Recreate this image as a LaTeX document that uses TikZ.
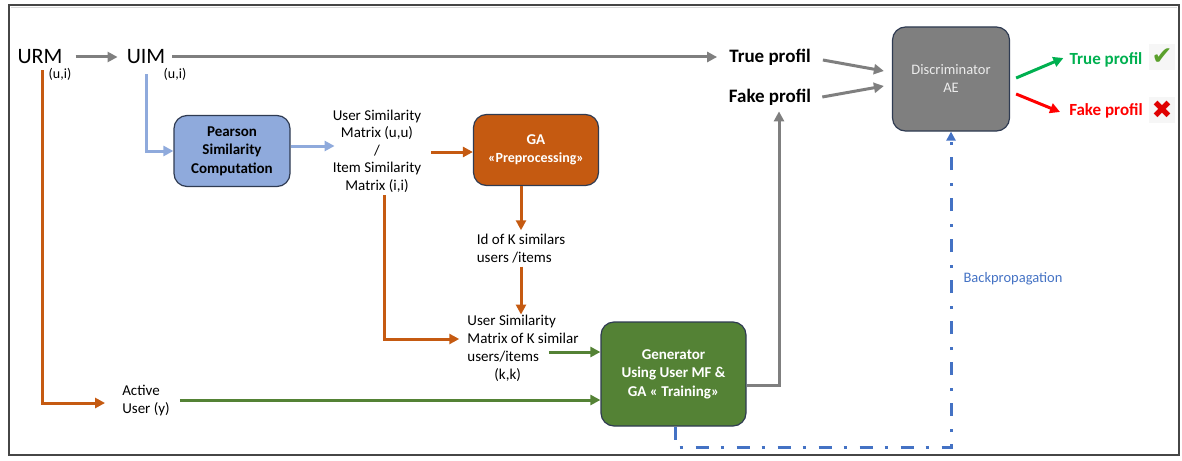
\documentclass[tikz,border=0pt]{standalone}
\usepackage{fontspec}
\setmainfont{Carlito}
\newfontfamily\symfont{DejaVu Sans}
\usetikzlibrary{arrows.meta,calc}
\definecolor{cgray}{HTML}{7F7F7F}
\definecolor{cblue}{HTML}{8FAADC}
\definecolor{corange}{HTML}{C55A11}
\definecolor{cgreen}{HTML}{548235}
\definecolor{ctrue}{HTML}{00B050}
\definecolor{cred}{HTML}{FF0000}
\definecolor{cbp}{HTML}{4472C4}
\definecolor{cbox}{HTML}{2F3B52}
\definecolor{ccheck}{HTML}{5AA02C}
\definecolor{ccross}{HTML}{E00000}
\begin{document}
\begin{tikzpicture}[x=1pt,y=-1pt,
  txt/.style={inner sep=0pt, font=\fontsize{15}{18}\selectfont},
  box/.style={draw=cbox, line width=1.2pt, rounded corners=13pt, align=center, inner sep=2pt},
  arr/.style={line width=3pt, -{Triangle[length=10pt,width=10pt]}},
  grayarr/.style={arr, cgray},
  bluearr/.style={arr, cblue},
  orarr/.style={arr, corange},
  grarr/.style={arr, cgreen},
  bpline/.style={line width=3pt, cbp, dash pattern=on 13pt off 12pt on 3pt off 13pt, -{Triangle[length=9pt,width=9pt]}},
  icon/.style={inner sep=1pt, fill=gray!7, minimum size=26pt, font=\symfont\fontsize{25}{27}\selectfont}
]
\useasboundingbox (0,0) rectangle (1182,460);
% frame
\draw[line width=1.5pt, gray!55!black] (9,5) rectangle (1179,455);
\draw[line width=1pt, gray!30] (11,7.5) -- (1177,7.5);

% top row
\node[txt, font=\fontsize{22}{24}\selectfont] (urm) at (40,57) {URM};
\node[txt, font=\fontsize{14}{16}\selectfont] (urmsub) at (60,74) {(u,i)};
\node[txt, font=\fontsize{22}{24}\selectfont] (uim) at (146,57) {UIM};
\node[txt, font=\fontsize{14}{16}\selectfont] (uimsub) at (175,74) {(u,i)};
\node[txt, font=\bfseries\fontsize{19}{22}\selectfont] (tp) at (770,57) {True profil};
\node[txt, font=\bfseries\fontsize{19}{22}\selectfont] (fp) at (770,97) {Fake profil};
\node[box, fill=cgray, minimum width=117pt, minimum height=104pt, text=gray!15, font=\fontsize{14.5}{18}\selectfont] (disc) at (951,79) {Discriminator\\AE};
\node[txt, text=ctrue, font=\bfseries\fontsize{17}{20}\selectfont] (tpo) at (1106,60) {True profil};
\node[txt, text=cred, font=\bfseries\fontsize{17}{20}\selectfont] (fpo) at (1106,111) {Fake profil};
\node[icon, text=ccheck] (chk) at (1162,57) {✔};
\node[icon, text=ccross] (crs) at (1162,110) {✖};

% middle
\node[box, fill=cblue, minimum width=116pt, minimum height=71pt, font=\bfseries\fontsize{15}{18.5}\selectfont] (pear) at (232,151) {Pearson\\Similarity\\Computation};
\node[txt, align=center, font=\fontsize{15}{17.5}\selectfont] (usm) at (377,151) {User Similarity\\Matrix (u,u)\\/\\Item Similarity\\Matrix (i,i)};
\node[box, fill=corange, text=white, minimum width=125pt, minimum height=71pt, font=\bfseries\fontsize{15}{19}\selectfont] (ga) at (536,150) {GA\\[-1pt]{\fontsize{14}{16}\selectfont «Preprocessing»}};
\node[txt, align=left] (idk) at (521,249) {Id of K similars\\users /items};
\node[txt, align=left] (usk) at (523,348) {User Similarity\\Matrix of K similar\\users/items\\\hspace*{27pt}(k,k)};
\node[box, fill=cgreen, text=white, minimum width=145pt, minimum height=104pt, font=\bfseries\fontsize{15}{18.5}\selectfont] (gen) at (673.5,374) {Generator\\Using User MF \&\\GA « Training»};
\node[txt, align=left] (au) at (146,401) {Active\\User (y)};
\node[txt, text=cbp, font=\fontsize{14.5}{17}\selectfont] (bp) at (1013,279) {Backpropagation};

% connectors
\draw[grayarr, shorten <=13pt, shorten >=9pt] (urm.east) -- (uim.east -| uim.west);
\draw[grayarr] ($(uim.east)+(7,0)$) -- ($(tp.west)+(-12,0)$);
\draw[grayarr] ($(tp.east)+(12,3)$) -- ($(disc.west)+(-8,-8)$);
\draw[grayarr] ($(fp.east)+(11,0)$) -- ($(disc.west)+(-8,7)$);
\draw[arr, ctrue] ($(disc.east)+(6,-1)$) -- ($(tpo.west)+(-6,-2)$);
\draw[arr, cred] ($(disc.east)+(6,15)$) -- ($(fpo.west)+(-9,1)$);

\draw[bluearr] ($(uim.south)+(0,10)$) |- (pear.west);
\draw[bluearr] ($(pear.east)+(0,-5)$) -- ($(usm.west)+(2,-5)$);
\draw[orarr] ($(usm.east)+(10,1)$) -- (ga.west |- {$(usm.east)+(10,1)$});
\draw[orarr] (ga.south -| idk.north) -- ($(idk.north)+(0,-4)$);
\draw[orarr] ($(idk.south)+(0,3)$) -- (idk.south |- usk.north);
\draw[orarr] ($(usm.south)+(7,3)$) |- ($(usk.west)+(-8,-9)$);
\draw[grarr] ($(usk.east)+(-30,4)$) -- ($(gen.west)+(0,-22)$);
\draw[orarr] ($(urm.south)+(2,6)$) |- ($(au.west)+(-17,2)$);
\draw[grarr] ($(au.east)+(10,-1)$) -- ($(gen.west)+(0,26)$);
\draw[grayarr] ($(gen.east)+(0,11)$) -| ($(fp.south)+(9,6)$);
\draw[bpline] ($(gen.south)+(2,0)$) -- ++(0,21) -| (disc.south);
\end{tikzpicture}
\end{document}
